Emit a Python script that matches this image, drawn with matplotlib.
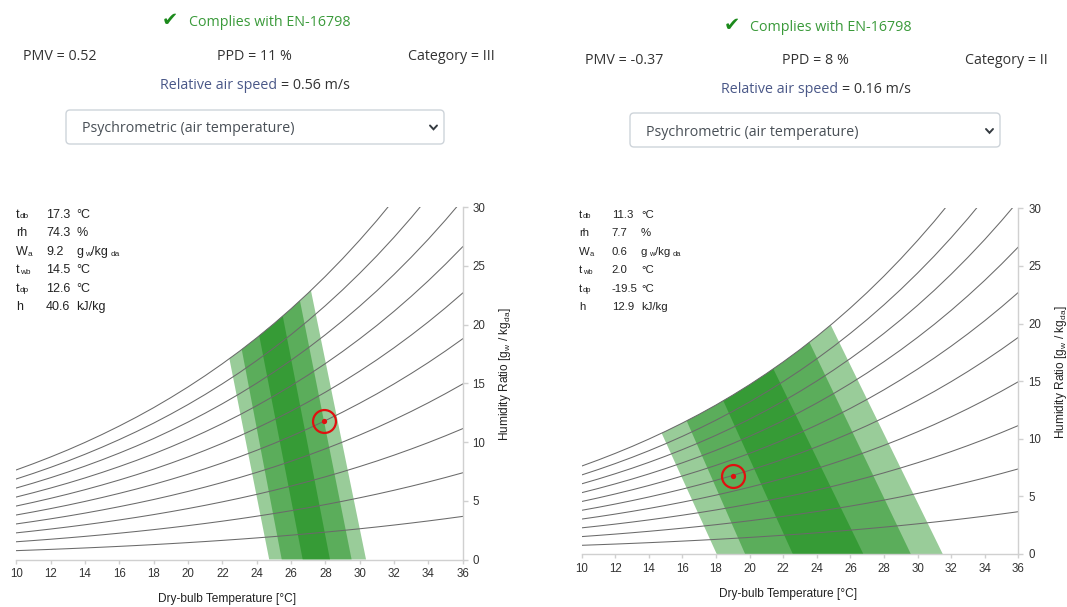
import numpy as np
import matplotlib
matplotlib.use("Agg")
import matplotlib.pyplot as plt
from matplotlib.patches import Polygon, FancyBboxPatch
from matplotlib.lines import Line2D
from matplotlib.transforms import IdentityTransform

# ---------------- data ----------------
sat_temps_c = [10, 11, 12, 13, 14, 15, 16, 17, 18, 19, 20, 21, 22, 23, 24,
               25, 26, 27, 28, 29, 30, 31, 32, 33, 34, 35, 36]
sat_pressure_kpa = [1.228, 1.313, 1.403, 1.498, 1.599, 1.706, 1.819, 1.938,
                    2.064, 2.198, 2.339, 2.488, 2.645, 2.810, 2.985, 3.169,
                    3.363, 3.567, 3.782, 4.008, 4.246, 4.495, 4.758, 5.034,
                    5.323, 5.627, 5.945]
rh_levels_pct = [10, 20, 30, 40, 50, 60, 70, 80, 90, 100]
x_tick_values = [10, 12, 14, 16, 18, 20, 22, 24, 26, 28, 30, 32, 34, 36]
y_tick_values = [0, 5, 10, 15, 20, 25, 30]

# comfort zones, outer (Cat III), middle (Cat II), inner (Cat I)
left_zone_bottom_t = [[24.73, 30.37], [25.46, 29.53], [26.68, 28.27]]
left_zone_top_t = [[22.41, 27.16], [23.13, 26.52], [24.15, 25.52]]
right_zone_bottom_t = [[18.04, 31.50], [19.73, 29.60], [22.57, 26.77]]
right_zone_top_t = [[14.76, 24.83], [16.25, 23.56], [18.43, 21.41]]

left_point = [27.94, 11.82]
right_point = [18.99, 6.80]

left_header = ["Complies with EN-16798", "PMV = 0.52", "PPD = 11 %",
               "Category = III", "Relative air speed", "= 0.56 m/s"]
right_header = ["Complies with EN-16798", "PMV = -0.37", "PPD = 8 %",
                "Category = II", "Relative air speed", "= 0.16 m/s"]
dropdown_label = "Psychrometric (air temperature)"

info_labels = [("t", "db"), ("rh", ""), ("W", "a"), ("t", "wb"), ("t", "dp"), ("h", "")]
left_info_values = ["17.3", "74.3", "9.2", "14.5", "12.6", "40.6"]
right_info_values = ["11.3", "7.7", "0.6", "2.0", "-19.5", "12.9"]
info_units = ["°C", "%", "g/kg", "°C", "°C", "kJ/kg"]

x_label = "Dry-bulb Temperature [°C]"
y_label = r"Humidity Ratio [g$_{\mathrm{w}}$ / kg$_{\mathrm{da}}$]"

P_ATM = 101.325

# ---------------- setup ----------------
W_PX, H_PX = 1067, 607
plt.rcParams['font.family'] = ['Liberation Sans', 'DejaVu Sans']
plt.rcParams['mathtext.fontset'] = 'custom'
plt.rcParams['mathtext.rm'] = 'Liberation Sans'
plt.rcParams['mathtext.it'] = 'Liberation Sans'
plt.rcParams['mathtext.bf'] = 'Liberation Sans'

fig = plt.figure(figsize=(W_PX / 100, H_PX / 100), dpi=100)
fig.patch.set_facecolor('white')
renderer = fig.canvas.get_renderer()
IDT = IdentityTransform()


def fx(x):
    return x / W_PX


def fy(y):
    return 1 - y / H_PX


def wratio(rh, pws):
    pw = rh * np.asarray(pws)
    return 622.0 * pw / (P_ATM - pw)


t_arr = np.array(sat_temps_c, dtype=float)
pws_arr = np.array(sat_pressure_kpa)
w_sat = wratio(1.0, pws_arr)


def sat_w_at(t):
    return np.interp(t, t_arr, w_sat)


def zone_polygon(bottom, top):
    tl, tr = top
    bl, br = bottom
    inner_t = t_arr[(t_arr > tl) & (t_arr < tr)][::-1]
    pts = [(bl, 0.0), (br, 0.0), (tr, sat_w_at(tr))]
    pts += [(t, sat_w_at(t)) for t in inner_t]
    pts += [(tl, sat_w_at(tl))]
    return pts


def draw_chart(rect_px, bottoms, tops, point):
    x0, y0, x1, y1 = rect_px
    ax = fig.add_axes([fx(x0), fy(y1), (x1 - x0) / W_PX, (y1 - y0) / H_PX])
    for b, t in zip(bottoms, tops):
        ax.add_patch(Polygon(zone_polygon(b, t), closed=True,
                             facecolor=(0, 0.5, 0), alpha=0.4,
                             edgecolor='none', zorder=1))
    for rh in rh_levels_pct:
        ax.plot(t_arr, wratio(rh / 100.0, pws_arr), color='#6a6a6a',
                lw=0.75, zorder=2)
    ax.plot([point[0]], [point[1]], 'o', ms=16.5, mfc='none', mec='#e01010',
            mew=1.6, zorder=4)
    ax.plot([point[0]], [point[1]], 'o', ms=3.8, mfc='#e01010',
            mec='none', zorder=4)
    ax.set_xlim(10, 36)
    ax.set_ylim(0, 30)
    ax.set_xticks(x_tick_values)
    ax.set_yticks(y_tick_values)
    for s in ['top', 'left']:
        ax.spines[s].set_visible(False)
    for s in ['bottom', 'right']:
        ax.spines[s].set_color('#d0d0d0')
        ax.spines[s].set_linewidth(1.0)
    ax.yaxis.tick_right()
    ax.tick_params(axis='x', direction='out', length=3, width=1,
                   color='#d0d0d0', labelcolor='#333333', labelsize=8.3,
                   pad=3.2)
    ax.tick_params(axis='y', direction='out', length=3.5, width=1,
                   color='#d0d0d0', labelcolor='#333333', labelsize=8.3,
                   pad=3.6)
    ax.set_facecolor('none')
    return ax


draw_chart((16.3, 207.3, 462.7, 559.5), left_zone_bottom_t, left_zone_top_t, left_point)
draw_chart((581.7, 208.3, 1018.3, 554.0), right_zone_bottom_t, right_zone_top_t, right_point)

# axis labels
fig.text(fx(227.5), fy(602), x_label, ha='center', va='baseline',
         fontsize=8.6, color='#222222')
fig.text(fx(788), fy(596.5), x_label, ha='center', va='baseline',
         fontsize=8.6, color='#222222')
fig.text(fx(505), fy(374), y_label, ha='center', va='center', rotation=90,
         fontsize=8.6, color='#222222')
fig.text(fx(1061), fy(372), y_label, ha='center', va='center', rotation=90,
         fontsize=8.6, color='#222222')


# ---------------- info block ----------------
def text_px(x, y, s, **kw):
    return fig.text(fx(x), fy(y), s, va='baseline', **kw)


def right_edge(t):
    return t.get_window_extent(renderer).x1


def info_block(xl, xv, xu, baselines, values, size):
    small = size * 0.66
    col = '#222222'
    for (lab, sub), val, unit, yb in zip(info_labels, values, info_units, baselines):
        t = text_px(xl, yb, lab, fontsize=size, color=col)
        if sub:
            text_px(right_edge(t) + 0.3, yb + 0.5, sub, fontsize=small, color=col)
        tv = text_px(xv, yb, val, fontsize=size, color=col)
        ux = max(xu, right_edge(tv) + 1.5)
        if unit == "g/kg":
            tg = text_px(ux, yb, "g", fontsize=size, color=col)
            tw = text_px(right_edge(tg) + 2, yb + 0.5, "w", fontsize=small, color=col)
            tk = text_px(right_edge(tw), yb, "/kg", fontsize=size, color=col)
            text_px(right_edge(tk) + 3, yb + 0.5, "da", fontsize=small, color=col)
        else:
            text_px(ux, yb, unit, fontsize=size, color=col)


info_block(16, 46, 76, [217.7, 236.0, 255.3, 273.3, 291.6, 310.0],
           left_info_values, 9.0)
info_block(579, 611.7, 641, [217.7, 236.3, 255.0, 273.3, 291.7, 310.2],
           right_info_values, 8.2)

# ---------------- header ----------------
HF = ['Open Sans', 'DejaVu Sans']


def header(texts, check_c, comp_x, comp_b, row_b, pmv_x, ppd_c, cat_r,
           rel_c, rel_b, box, box_text_x, box_text_b, chev_c):
    size = 10.3
    fig.text(fx(check_c[0]), fy(check_c[1]), "\u2714", ha='center', va='center',
             fontsize=14, color='#1c8a1c', family='DejaVu Sans',
             fontweight='bold')
    text_px(comp_x, comp_b, texts[0], fontsize=size, color='#3a9a3a', family=HF)
    text_px(pmv_x, row_b, texts[1], fontsize=size, color='#333333', family=HF)
    text_px(ppd_c, row_b, texts[2], fontsize=size, color='#333333', family=HF,
            ha='center')
    text_px(cat_r, row_b, texts[3], fontsize=size, color='#333333', family=HF,
            ha='right')
    t1 = text_px(0, rel_b, texts[4], fontsize=size, color='#4a5888', family=HF)
    t2 = text_px(0, rel_b, texts[5], fontsize=size, color='#333333', family=HF)
    w1 = t1.get_window_extent(renderer).width
    w2 = t2.get_window_extent(renderer).width
    gap = 4.0
    start = rel_c - (w1 + gap + w2) / 2
    t1.set_position((fx(start), fy(rel_b)))
    t2.set_position((fx(start + w1 + gap), fy(rel_b)))
    bx0, by0, bx1, by1 = box
    fig.add_artist(FancyBboxPatch((bx0, H_PX - by1), bx1 - bx0, by1 - by0,
                                  boxstyle='round,pad=0,rounding_size=4',
                                  transform=IDT, facecolor='white',
                                  edgecolor='#ced4da', lw=1.0))
    text_px(box_text_x, box_text_b, dropdown_label, fontsize=size,
            color='#495057', family=HF)
    cx, cy = chev_c
    fig.add_artist(Line2D([cx - 3.5, cx, cx + 3.5],
                          [H_PX - (cy - 2), H_PX - (cy + 1.8), H_PX - (cy - 2)],
                          transform=IDT, color='#343a40', lw=1.4,
                          solid_capstyle='round', solid_joinstyle='miter'))


header(left_header, (170, 20.5), 189, 26.5, 59.5, 23, 254, 495, 255, 89,
       (66, 110, 444, 144), 82, 132.5, (433.5, 127.5))
header(right_header, (731.5, 25.5), 750, 31, 63.5, 585, 815, 1048, 815.5, 93,
       (630, 113, 1000, 147), 646, 136.5, (989.5, 131))

fig.savefig("out.png", dpi=100, facecolor='white')
